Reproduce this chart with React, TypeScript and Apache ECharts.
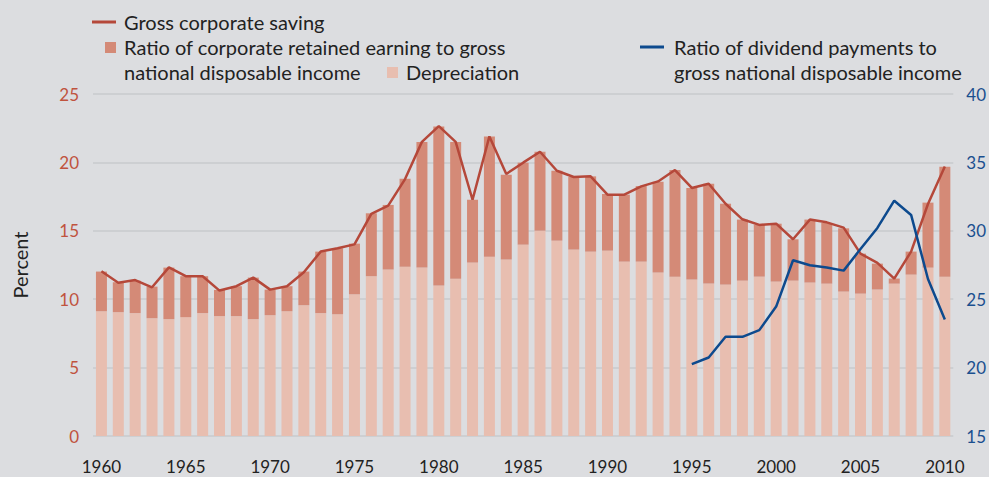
import React, { useEffect, useRef } from "react";
import * as echarts from "echarts";

const years: string[] = [];
for (let y = 1960; y <= 2010; y++) years.push(String(y));

const depreciation = [
  9.12, 9.05, 8.98, 8.61, 8.54, 8.69, 8.98, 8.76, 8.76, 8.54,
  8.83, 9.12, 9.56, 8.98, 8.9, 10.36, 11.68, 12.17, 12.38, 12.31,
  11.0, 11.5, 12.68, 13.11, 12.9, 13.99, 15.01, 14.28, 13.63, 13.48,
  13.55, 12.75, 12.75, 11.95, 11.65, 11.44, 11.14, 11.07, 11.36, 11.65,
  11.29, 11.36, 11.22, 11.14, 10.56, 10.41, 10.71, 11.14, 11.8, 12.31,
  11.65,
];

const retainedEarnings = [
  2.9, 2.19, 2.38, 2.31, 3.77, 2.99, 2.7, 1.92, 2.19, 3.04,
  1.87, 1.83, 2.46, 4.5, 4.82, 3.7, 4.6, 4.72, 6.43, 9.19,
  11.63, 10.0, 4.59, 8.79, 6.2, 5.99, 5.77, 5.11, 5.3, 5.5,
  4.14, 4.89, 5.52, 6.64, 7.79, 6.69, 7.3, 5.91, 4.46, 3.8,
  4.23, 3.02, 4.6, 4.43, 4.62, 2.92, 1.89, 0.37, 1.68, 4.75,
  8.03,
];

const grossSaving = [
  12.04, 11.2, 11.4, 10.87, 12.33, 11.68, 11.68, 10.63, 10.95, 11.58,
  10.7, 10.95, 11.97, 13.48, 13.72, 14.01, 16.23, 16.84, 18.78, 21.5,
  22.65, 21.5, 17.27, 21.9, 19.15, 19.98, 20.78, 19.39, 18.93, 18.98,
  17.64, 17.64, 18.25, 18.61, 19.44, 18.13, 18.44, 16.98, 15.84, 15.43,
  15.52, 14.38, 15.82, 15.62, 15.23, 13.33, 12.65, 11.51, 13.48, 16.96,
  19.7,
];

// 1995-2010, right axis
const dividendYears = [
  "1995", "1996", "1997", "1998", "1999", "2000", "2001", "2002",
  "2003", "2004", "2005", "2006", "2007", "2008", "2009", "2010",
];
const dividendRatio = [
  20.26, 20.74, 22.25, 22.25, 22.74, 24.46, 27.85, 27.48,
  27.31, 27.09, 28.67, 30.21, 32.2, 31.16, 26.48, 23.52,
];

const leftTicks = { min: 0, max: 25, interval: 5 };
const rightTicks = { min: 15, max: 40, interval: 5 };

const legendLabels = {
  saving: "Gross corporate saving",
  retained1: "Ratio of corporate retained earning to gross",
  retained2: "national disposable income",
  depreciation: "Depreciation",
  dividend1: "Ratio of dividend payments to",
  dividend2: "gross national disposable income",
};

const BG = "#dcdde0";
const RED_LINE = "#b5483a";
const RETAINED = "#d48a77";
const DEPREC = "#e8beb0";
const BLUE = "#0d4a8e";
const FONT = "Lato";
const TXT = "#222222";

export default function App() {
  const ref = useRef<HTMLDivElement>(null);
  useEffect(() => {
    document.body.style.margin = "0";
    document.body.style.background = BG;
    const chart = echarts.init(ref.current!, undefined, { renderer: "svg" });
    const dividendMap: Record<string, number> = {};
    dividendYears.forEach((y, i) => (dividendMap[y] = dividendRatio[i]));
    const dividendData = years.map((y) => (y in dividendMap ? dividendMap[y] : null));

    const legendFont = { fontFamily: FONT, fontSize: 20, fill: TXT };
    chart.setOption({
      animation: false,
      backgroundColor: BG,
      textStyle: { fontFamily: FONT },
      grid: { left: 93, right: 33, top: 94, bottom: 41 },
      xAxis: {
        type: "category",
        data: years,
        axisLine: { show: false },
        axisTick: { show: false },
        axisLabel: { interval: 4, color: TXT, fontSize: 17, margin: 22, fontFamily: FONT },
      },
      yAxis: [
        {
          type: "value",
          ...leftTicks,
          name: "Percent",
          nameLocation: "middle",
          nameRotate: 90,
          nameGap: 63,
          nameTextStyle: { color: TXT, fontSize: 20, fontFamily: FONT },
          axisLine: { show: false },
          axisTick: { show: false },
          axisLabel: { color: "#c0533e", fontSize: 17, margin: 14, fontFamily: FONT },
          splitLine: { lineStyle: { color: "#cdcfd2", width: 2 } },
        },
        {
          type: "value",
          ...rightTicks,
          position: "right",
          axisLine: { show: false },
          axisTick: { show: false },
          axisLabel: { color: "#1a4f8f", fontSize: 17, margin: 13, fontFamily: FONT },
          splitLine: { show: false },
        },
      ],
      series: [
        {
          name: "Depreciation",
          type: "bar",
          stack: "a",
          data: depreciation,
          barWidth: 11,
          itemStyle: { color: DEPREC },
        },
        {
          name: "Retained",
          type: "bar",
          stack: "a",
          data: retainedEarnings,
          barWidth: 11,
          itemStyle: { color: RETAINED },
        },
        {
          name: "Gross corporate saving",
          type: "line",
          data: grossSaving,
          showSymbol: false,
          symbol: "none",
          lineStyle: { color: RED_LINE, width: 2.5 },
          z: 5,
        },
        {
          name: "Dividend",
          type: "line",
          yAxisIndex: 1,
          data: dividendData,
          showSymbol: false,
          symbol: "none",
          lineStyle: { color: BLUE, width: 2.5 },
          z: 6,
        },
      ],
      graphic: [
        { type: "line", shape: { x1: 92, y1: 22, x2: 116, y2: 22 }, style: { stroke: RED_LINE, lineWidth: 3 } },
        { type: "text", x: 124, y: 22, style: { text: legendLabels.saving, ...legendFont, verticalAlign: "middle" } },
        { type: "rect", shape: { x: 105, y: 42, width: 11, height: 11 }, style: { fill: RETAINED } },
        { type: "text", x: 124, y: 47, style: { text: legendLabels.retained1, ...legendFont, verticalAlign: "middle" } },
        { type: "text", x: 124, y: 72, style: { text: legendLabels.retained2, ...legendFont, verticalAlign: "middle" } },
        { type: "rect", shape: { x: 387, y: 67, width: 11, height: 11 }, style: { fill: DEPREC } },
        { type: "text", x: 406, y: 72, style: { text: legendLabels.depreciation, ...legendFont, verticalAlign: "middle" } },
        { type: "line", shape: { x1: 640, y1: 47, x2: 664, y2: 47 }, style: { stroke: BLUE, lineWidth: 3 } },
        { type: "text", x: 674, y: 47, style: { text: legendLabels.dividend1, ...legendFont, verticalAlign: "middle" } },
        { type: "text", x: 674, y: 72, style: { text: legendLabels.dividend2, ...legendFont, verticalAlign: "middle" } },
      ],
    });
    return () => chart.dispose();
  }, []);
  return (
    <div
      ref={ref}
      style={{ position: "fixed", left: 0, top: 0, width: 989, height: 477 }}
    />
  );
}
